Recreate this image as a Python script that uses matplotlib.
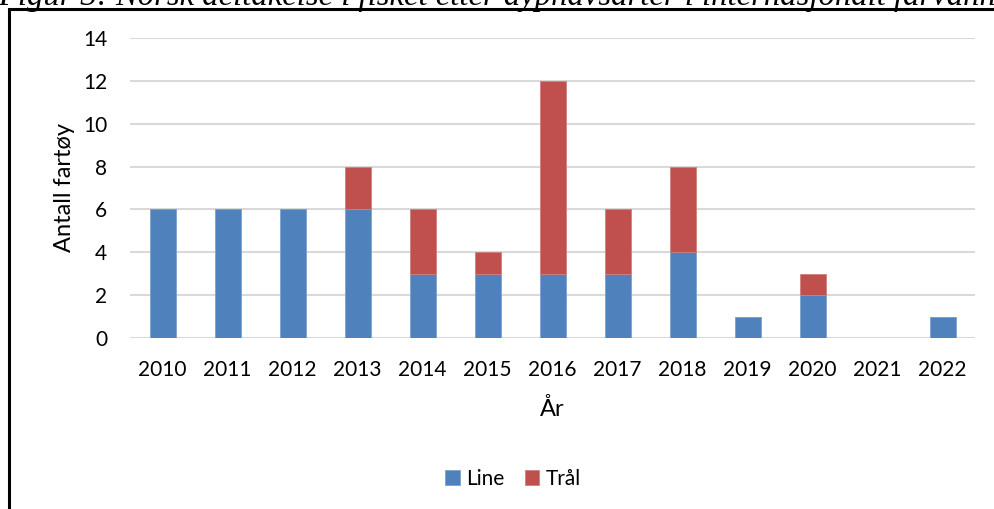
import numpy as np
import matplotlib.pyplot as plt
from matplotlib.patches import Rectangle

years = ['2010', '2011', '2012', '2013', '2014', '2015', '2016',
         '2017', '2018', '2019', '2020', '2021', '2022']
line_vals = [6, 6, 6, 6, 3, 3, 3, 3, 4, 1, 2, 0, 1]
tral_vals = [0, 0, 0, 2, 3, 1, 9, 3, 4, 0, 1, 0, 0]

plt.rcParams['font.family'] = ['Lato', 'DejaVu Sans']

W, H = 995, 509
fig = plt.figure(figsize=(W / 100, H / 100), dpi=100)

# frame around the chart (right and bottom edges fall outside the picture)
fig.add_artist(Rectangle((9 / W, -0.1), 1.2, 1 - 9 / H + 0.1, transform=fig.transFigure,
                         fill=False, edgecolor='black', linewidth=2.2, clip_on=False))

# caption above the frame, mostly cut off at the top as in the source
fig.text(-2 / W, 1 - 5 / H, 'Figur 3: Norsk deltakelse i fisket etter dyphavsarter i internasjonalt farvann',
         family='Liberation Serif', style='italic', fontsize=23.5, va='baseline', ha='left')

ax = fig.add_axes([130 / W, 1 - 338 / H, 845 / W, 300 / H])
x = np.arange(len(years))
ax.bar(x, line_vals, width=0.4, color='#4f81bd', edgecolor='#7ea3d1', linewidth=0.6,
       label='Line', zorder=3)
ax.bar(x, tral_vals, width=0.4, bottom=line_vals, color='#c0504d', edgecolor='#d0807e',
       linewidth=0.6, label='Trål', zorder=3)

ax.set_xlim(-0.5, len(years) - 0.5)
ax.set_ylim(0, 14)
ax.set_yticks(range(0, 15, 2))
ax.set_xticks(x)
ax.set_xticklabels(years)
ax.yaxis.grid(True, color='#d9d9d9', linewidth=1.5, zorder=0)
ax.set_axisbelow(True)
for s in ax.spines.values():
    s.set_visible(False)
ax.tick_params(axis='both', length=0, labelsize=15)
ax.tick_params(axis='y', pad=16.5)
ax.tick_params(axis='x', pad=16)

ax.set_ylabel('Antall fartøy', fontsize=17, labelpad=6)
ax.set_xlabel('År', fontsize=17, labelpad=13)

ax.legend(loc='center', bbox_to_anchor=(513 / W, 1 - 479 / H), bbox_transform=fig.transFigure,
          ncol=2, frameon=False, fontsize=15, handlelength=0.7, handleheight=0.7,
          handletextpad=0.3, columnspacing=1.0)

fig.savefig('out.png', dpi=100)
